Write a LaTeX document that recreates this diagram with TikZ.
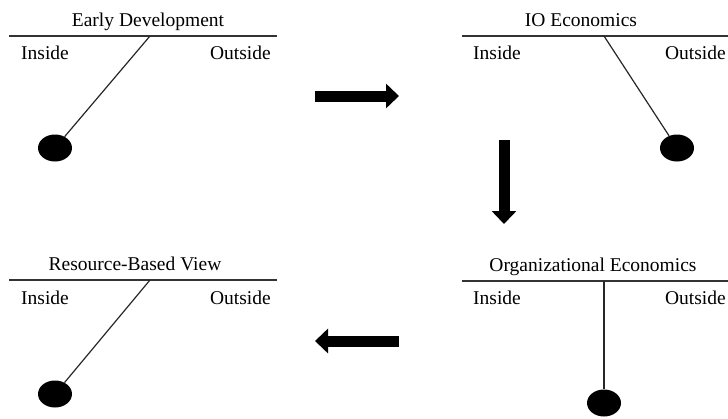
\documentclass[tikz,border=0pt]{standalone}
\usepackage{fontspec}
\setmainfont{Liberation Serif}
\usetikzlibrary{arrows.meta,shapes.geometric}
\begin{document}
\begin{tikzpicture}[x=1pt,y=-1pt,
  txt/.style={inner sep=0pt,font=\fontsize{19.5}{23}\selectfont},
  ttl/.style={txt,anchor=base},
  lft/.style={txt,anchor=base west},
  rgt/.style={txt,anchor=base east},
  bar/.style={line width=1.5pt,draw=black!80},
  rod/.style={line width=1.2pt,draw=black!85},
  ball/.style={ellipse,fill=black,minimum width=34pt,minimum height=27pt,inner sep=0pt},
  bigarrow/.style={line width=11pt,-{Triangle[length=13pt,width=24pt]}}]
\useasboundingbox (0,0) rectangle (728,418);
% Early Development
\node[ttl] (t1) at (148,26) {Early Development};
\coordinate (l1a) at (9,36); \coordinate (l1b) at (277,36);
\draw[bar] (l1a) -- (l1b);
\node[lft] (i1) at (21,59.5) {Inside};
\node[rgt] (o1) at (271,59.5) {Outside};
\coordinate (p1) at (150,36);
\node[ball] (b1) at (55,148) {};
\draw[rod] (p1) -- (b1);
% IO Economics
\node[ttl] (t2) at (581,26) {IO Economics};
\coordinate (l2a) at (462,36); \coordinate (l2b) at (729,36);
\draw[bar] (l2a) -- (l2b);
\node[lft] (i2) at (473,59.5) {Inside};
\node[rgt] (o2) at (726,59.5) {Outside};
\coordinate (p2) at (604,36);
\node[ball] (b2) at (677,148) {};
\draw[rod] (p2) -- (b2);
% Resource-Based View
\node[ttl] (t3) at (135,270) {Resource-Based View};
\coordinate (l3a) at (9,280); \coordinate (l3b) at (277,280);
\draw[bar] (l3a) -- (l3b);
\node[lft] (i3) at (21,304) {Inside};
\node[rgt] (o3) at (271,304) {Outside};
\coordinate (p3) at (150,280);
\node[ball] (b3) at (55,394) {};
\draw[rod] (p3) -- (b3);
% Organizational Economics
\node[ttl] (t4) at (593,271) {Organizational Economics};
\coordinate (l4a) at (462,281); \coordinate (l4b) at (729,281);
\draw[bar] (l4a) -- (l4b);
\node[lft] (i4) at (473,304) {Inside};
\node[rgt] (o4) at (726,304) {Outside};
\coordinate (p4) at (604,281);
\node[ball] (b4) at (604,403) {};
\draw[rod] (p4) -- (b4);
% arrows
\coordinate (a1s) at (315,96); \coordinate (a1e) at (399,96);
\draw[bigarrow] (a1s) -- (a1e);
\coordinate (a2s) at (504,140); \coordinate (a2e) at (504,224);
\draw[bigarrow] (a2s) -- (a2e);
\coordinate (a3s) at (399,341); \coordinate (a3e) at (315,341);
\draw[bigarrow] (a3s) -- (a3e);
\end{tikzpicture}
\end{document}
